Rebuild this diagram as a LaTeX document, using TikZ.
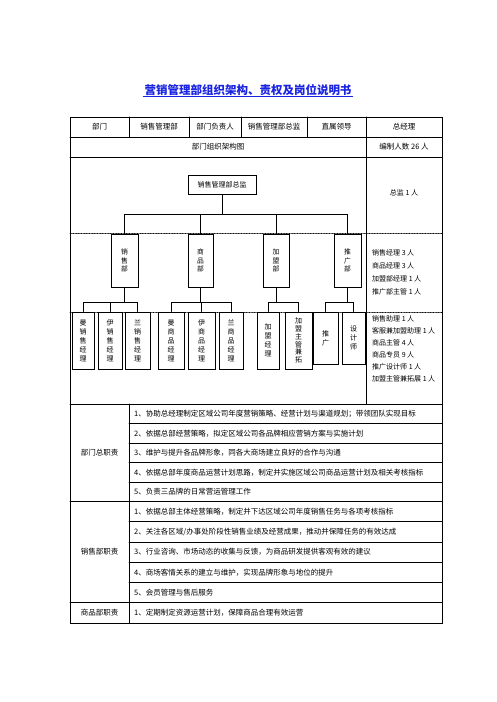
\documentclass[tikz,border=0pt]{standalone}
\usepackage{fontspec}
\setmainfont{Noto Sans CJK SC}
\usetikzlibrary{positioning}
\definecolor{titleblue}{RGB}{25,35,225}

\begin{document}
\begin{tikzpicture}[x=1pt,y=-1pt,line cap=round,
  tbl/.style={line width=0.9pt},
  cell/.style={font=\fontsize{7.5}{9}\selectfont,inner sep=0pt},
  duty/.style={cell,anchor=west},
  note/.style={font=\fontsize{7}{9}\selectfont,inner sep=0pt,anchor=west},
  obox/.style={draw,line width=0.9pt,fill=white,inner sep=0pt,align=center},
  deptbox/.style={obox,minimum width=27pt,minimum height=53pt,font=\fontsize{6.8}{8.5}\selectfont},
  posbox/.style={obox,anchor=north,minimum height=57pt,font=\fontsize{7}{9}\selectfont},
  link/.style={line width=0.8pt},
  splitline/.style={densely dotted,line width=0.6pt}]
\useasboundingbox (0,0) rectangle (496,702);

\node[font=\fontsize{11.5}{13}\bfseries\selectfont,text=titleblue,inner sep=1pt] (title) at (248,90) {营销管理部组织架构、责权及岗位说明书};
\draw[titleblue,line width=0.7pt] (title.south west) -- (title.south east);

\draw[tbl] (70,117) rectangle (442,623);
\draw[tbl] (70,137) -- (442,137);
\draw[tbl] (70,157) -- (442,157);
\draw[tbl] (70,404) -- (442,404);
\draw[tbl] (70,501.5) -- (442,501.5);
\draw[tbl] (70,602.75) -- (442,602.75);
\foreach \x in {129,189,241,307}
  \draw[tbl] (\x,117) -- (\x,137);
\draw[tbl] (366,117) -- (366,404);
\draw[tbl] (129,404) -- (129,623);
\foreach \y in {423.5,443,462.5,482,521.75,542,562.25,582.5}
  \draw[tbl] (129,\y) -- (442,\y);
\draw[splitline] (70,233) -- (442,233);
\draw[splitline] (70,312) -- (442,312);

\node[cell] (h1) at (99.5,127) {部门};
\node[cell] (h2) at (159,127) {销售管理部};
\node[cell] (h3) at (215,127) {部门负责人};
\node[cell] (h4) at (274,127) {销售管理部总监};
\node[cell] (h5) at (336.5,127) {直属领导};
\node[cell] (h6) at (404,127) {总经理};
\node[cell] (chart) at (218,147) {部门组织架构图};
\node[cell] (staff) at (404,147) {编制人数 26 人};

\node[note,anchor=center] (n0) at (404,193) {总监 1 人};
\node[note] (n1) at (372,253) {销售经理 3 人};
\node[note] (n2) at (372,266) {商品经理 3 人};
\node[note] (n3) at (372,279) {加盟部经理 1 人};
\node[note] (n4) at (372,292) {推广部主管 1 人};
\node[note] (n5) at (372,319) {销售助理 1 人};
\node[note] (n6) at (372,331) {客服兼加盟助理 1 人};
\node[note] (n7) at (372,343) {商品主管 4 人};
\node[note] (n8) at (372,355) {商品专员 9 人};
\node[note] (n9) at (372,367) {推广设计师 1 人};
\node[note] (n10) at (372,379) {加盟主管兼拓展 1 人};

\node[obox,minimum width=68pt,minimum height=19pt,font=\fontsize{7}{9}\selectfont] (chief) at (222,184.5) {销售管理部总监};
\node[deptbox] (xs) at (124.5,260.5) {销\\售\\部};
\node[deptbox,minimum width=25pt] (sp) at (200.5,260.5) {商\\品\\部};
\node[deptbox,minimum width=26pt] (jm) at (276,260.5) {加\\盟\\部};
\node[deptbox] (tg) at (347.5,260.5) {推\\广\\部};

\node[posbox,minimum width=22pt] (ms) at (83,311.5) {曼\\销\\售\\经\\理};
\node[posbox,minimum width=24pt] (ys) at (110,311.5) {伊\\销\\售\\经\\理};
\node[posbox,minimum width=25pt] (ls) at (137.5,311.5) {兰\\销\\售\\经\\理};
\node[posbox,minimum width=26pt] (mp) at (171,311.5) {曼\\商\\品\\经\\理};
\node[posbox,minimum width=27pt] (yp) at (201.5,311.5) {伊\\商\\品\\经\\理};
\node[posbox,minimum width=24pt] (lp) at (231,311.5) {兰\\商\\品\\经\\理};
\node[posbox,minimum width=22pt] (jl) at (268,311.5) {加\\盟\\经\\理};
\node[posbox,minimum width=27pt,font=\fontsize{7}{7.9}\selectfont] (jz) at (298.5,311.5) {加\\盟\\主\\管\\兼\\拓};
\node[posbox,minimum width=25pt,minimum height=52pt] (tgp) at (325.5,311.5) {推\\广};
\node[posbox,minimum width=23pt,minimum height=52pt] (sj) at (353.5,311.5) {设\\计\\师};

\draw[link] (chief.south) -- ++(0,20) coordinate (hub);
\draw[link] (xs.north) |- (hub);
\draw[link] (sp.north) |- (hub);
\draw[link] (jm.north) |- (hub);
\draw[link] (tg.north) |- (hub);

\draw[link] (xs.south) -- ++(0,15) coordinate (xsbar);
\draw[link] (ms.north) |- (xsbar);
\draw[link] (ys.north) |- (xsbar);
\draw[link] (ls.north) |- (xsbar);
\draw[link] (sp.south) -- ++(0,15) coordinate (spbar);
\draw[link] (mp.north) |- (spbar);
\draw[link] (yp.north) |- (spbar);
\draw[link] (lp.north) |- (spbar);
\draw[link] (jm.south) -- ++(0,15) coordinate (jmbar);
\draw[link] (jl.north) |- (jmbar);
\draw[link] (jz.north) |- (jmbar);
\draw[link] (tg.south) -- ++(0,15) coordinate (tgbar);
\draw[link] (tgp.north) |- (tgbar);
\draw[link] (sj.north) |- (tgbar);

\node[cell] (r1) at (99.5,452.75) {部门总职责};
\node[duty] (d1) at (134,413.75) {1、协助总经理制定区域公司年度营销策略、经营计划与渠道规划；带领团队实现目标};
\node[duty] (d2) at (134,433.25) {2、依据总部经营策略，拟定区域公司各品牌相应营销方案与实施计划};
\node[duty] (d3) at (134,452.75) {3、维护与提升各品牌形象，同各大商场建立良好的合作与沟通};
\node[duty] (d4) at (134,472.25) {4、依据总部年度商品运营计划思路，制定并实施区域公司商品运营计划及相关考核指标};
\node[duty] (d5) at (134,491.75) {5、负责三品牌的日常营运管理工作};

\node[cell] (r2) at (99.5,552.1) {销售部职责};
\node[duty] (s1) at (134,511.6) {1、依据总部主体经营策略，制定并下达区域公司年度销售任务与各项考核指标};
\node[duty] (s2) at (134,531.9) {2、关注各区域/办事处阶段性销售业绩及经营成果，推动并保障任务的有效达成};
\node[duty] (s3) at (134,552.1) {3、行业咨询、市场动态的收集与反馈，为商品研发提供客观有效的建议};
\node[duty] (s4) at (134,572.4) {4、商场客情关系的建立与维护，实现品牌形象与地位的提升};
\node[duty] (s5) at (134,592.6) {5、会员管理与售后服务};

\node[cell] (r3) at (99.5,612.9) {商品部职责};
\node[duty] (p1) at (134,612.9) {1、定期制定资源运营计划，保障商品合理有效运营};
\end{tikzpicture}
\end{document}
